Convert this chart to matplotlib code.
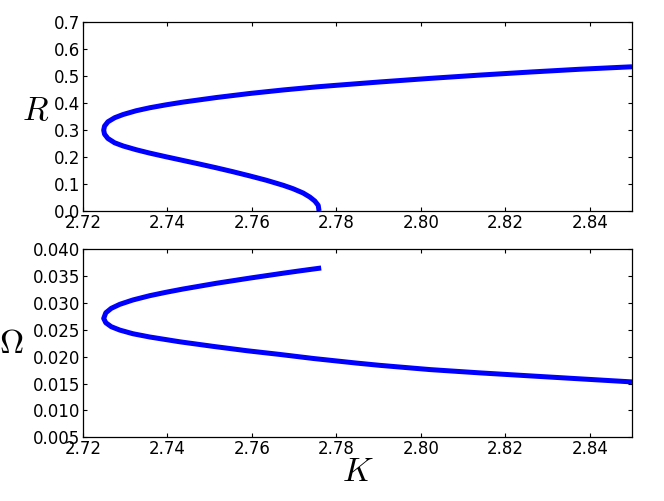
import matplotlib
matplotlib.use("Agg")
import matplotlib.pyplot as plt

# Top panel: R along the branch (from the R=0 end, around the fold, to K=2.85)
K_top = [2.7759, 2.7757, 2.7749, 2.7737, 2.7721, 2.7697, 2.7674, 2.7634, 2.7595,
         2.7555, 2.7516, 2.7476, 2.7437, 2.7397, 2.7358, 2.7326, 2.7295, 2.7275,
         2.7259, 2.7251, 2.7249, 2.7251, 2.7259, 2.7275, 2.7295, 2.7326, 2.7358,
         2.7397, 2.7437, 2.7516, 2.7595, 2.7674, 2.7753, 2.7785, 2.7903, 2.8022,
         2.8140, 2.8259, 2.8377, 2.8500]
R_vals = [0.000, 0.021, 0.037, 0.052, 0.067, 0.083, 0.0955, 0.1142, 0.1302,
          0.1458, 0.1602, 0.1742, 0.1875, 0.2011, 0.2148, 0.2273, 0.2413, 0.253,
          0.269, 0.285, 0.300, 0.315, 0.331, 0.346, 0.358, 0.372, 0.383,
          0.394, 0.404, 0.421, 0.436, 0.449, 0.4605, 0.4645, 0.4787, 0.492,
          0.5042, 0.5155, 0.5259, 0.535]

# Bottom panel: Omega along the same branch
K_bot = [2.7764, 2.7713, 2.7674, 2.7595, 2.7516, 2.7437, 2.7397, 2.7358, 2.7318,
         2.7287, 2.7267, 2.7254, 2.7249, 2.7254, 2.7267, 2.7287, 2.7318, 2.7358,
         2.7430, 2.7509, 2.7588, 2.7667, 2.7746, 2.7848, 2.7903, 2.8022, 2.8140,
         2.8259, 2.8377, 2.8500]
Omega_vals = [0.03648, 0.03594, 0.03551, 0.03460, 0.03364, 0.03257, 0.03197, 0.03133, 0.03053,
              0.02972, 0.02898, 0.02815, 0.02710, 0.02630, 0.02556, 0.02494, 0.02426, 0.02365,
              0.02275, 0.02190, 0.02110, 0.02040, 0.01965, 0.01880, 0.01838, 0.01759, 0.01698,
              0.01642, 0.01587, 0.01530]

x_ticks = [2.72, 2.74, 2.76, 2.78, 2.80, 2.82, 2.84]
R_ticks = [0.0, 0.1, 0.2, 0.3, 0.4, 0.5, 0.6, 0.7]
Omega_ticks = [0.005, 0.010, 0.015, 0.020, 0.025, 0.030, 0.035, 0.040]

plt.rcParams['mathtext.fontset'] = 'cm'
plt.rcParams['font.family'] = 'DejaVu Sans'

fig = plt.figure(figsize=(6.64, 5.01), dpi=100)
ax1 = fig.add_axes([0.125, 0.5788, 0.8268, 0.3767])
ax2 = fig.add_axes([0.125, 0.1271, 0.8268, 0.3758])

for ax in (ax1, ax2):
    ax.tick_params(direction='in', length=3.0, width=0.8, top=True, right=True,
                   labelsize=12, pad=2, colors='black')
    for s in ax.spines.values():
        s.set_linewidth(0.9)
        s.set_color('black')
    ax.set_xlim(2.72, 2.85)
    ax.set_xticks(x_ticks)
    ax.set_xticklabels([f"{v:.2f}" for v in x_ticks])

ax1.plot(K_top, R_vals, color='#0000ff', lw=3.6, solid_joinstyle='round',
         solid_capstyle='butt')
ax1.set_ylim(0, 0.7)
ax1.set_yticks(R_ticks)
ax1.set_yticklabels([f"{v:.1f}" for v in R_ticks])
ax1.set_ylabel(r'$R$', fontsize=24, rotation=0, ha='center', va='center')
ax1.yaxis.set_label_coords(-0.087, 0.53)

ax2.plot(K_bot, Omega_vals, color='#0000ff', lw=3.6, solid_joinstyle='round',
         solid_capstyle='butt')
ax2.set_ylim(0.005, 0.040)
ax2.set_yticks(Omega_ticks)
ax2.set_yticklabels([f"{v:.3f}" for v in Omega_ticks])
ax2.set_ylabel(r'$\Omega$', fontsize=24, rotation=0, ha='center', va='center')
ax2.yaxis.set_label_coords(-0.131, 0.5)
ax2.set_xlabel(r'$K$', fontsize=24, va='center', ha='center')
ax2.xaxis.set_label_coords(0.501, -0.184)

fig.savefig('out.png', dpi=100)
